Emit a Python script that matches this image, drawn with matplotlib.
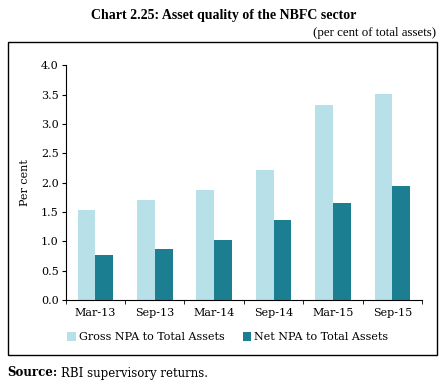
import numpy as np
import matplotlib.pyplot as plt
from matplotlib.patches import Rectangle

# Datos
periodos = ['Mar-13', 'Sep-13', 'Mar-14', 'Sep-14', 'Mar-15', 'Sep-15']
gross_npa = [1.53, 1.70, 1.87, 2.21, 3.32, 3.51]
net_npa = [0.77, 0.87, 1.03, 1.36, 1.66, 1.94]

c_gross = '#b7e0e8'
c_net = '#1c7f91'
plt.rcParams['font.family'] = 'DejaVu Serif'

fig = plt.figure(figsize=(4.48, 3.88), dpi=100)
ax = fig.add_axes([0.1467, 0.2268, 0.7953, 0.6049])

x = np.arange(len(periodos))
w = 0.3
ax.bar(x - w / 2, gross_npa, w, color=c_gross, label='Gross NPA to Total Assets')
ax.bar(x + w / 2, net_npa, w, color=c_net, label='Net NPA to Total Assets')

ax.set_xlim(-0.5, len(periodos) - 0.5)
ax.set_ylim(0, 4.0)
ax.set_yticks(np.arange(0, 4.01, 0.5))
ax.set_yticklabels([f'{v:.1f}' for v in np.arange(0, 4.01, 0.5)], fontsize=8)
ax.set_xticks(x)
ax.set_xticklabels(periodos, fontsize=8)
ax.tick_params(axis='x', which='major', length=0, pad=6)
# marcas entre categorias
ax.set_xticks(np.arange(-0.5, len(periodos)), minor=True)
ax.tick_params(axis='x', which='minor', length=3, direction='out')
ax.tick_params(axis='y', length=3, pad=2)
for s in ['top', 'right']:
    ax.spines[s].set_visible(False)
ax.set_ylabel('Per cent', fontsize=8, labelpad=8)

ax.legend(loc='upper center', bbox_to_anchor=(0.455, -0.095), ncol=2, frameon=False,
          fontsize=8, handlelength=0.8, handleheight=0.8, handletextpad=0.25,
          columnspacing=1.6)

# Marco exterior
fig.patches.append(Rectangle((8 / 448, 1 - 355 / 388), 429 / 448, 313 / 388,
                             transform=fig.transFigure, fill=False,
                             edgecolor='black', linewidth=1.0))

fig.text(0.50, 1 - 15 / 388, 'Chart 2.25: Asset quality of the NBFC sector',
         ha='center', va='center', fontsize=10, fontweight='bold',
         family='Liberation Serif')
fig.text(436 / 448, 1 - 33 / 388, '(per cent of total assets)',
         ha='right', va='center', fontsize=9.3, family='Liberation Serif')
t = fig.text(7 / 448, 1 - 373 / 388, 'Source:', ha='left', va='center',
             fontsize=8.5, fontweight='bold')
ax.annotate('RBI supervisory returns.', xy=(1, 0.5), xycoords=t,
            xytext=(3, 0), textcoords='offset points', ha='left', va='center',
            fontsize=8.5, annotation_clip=False)

plt.savefig('out.png', dpi=100)
